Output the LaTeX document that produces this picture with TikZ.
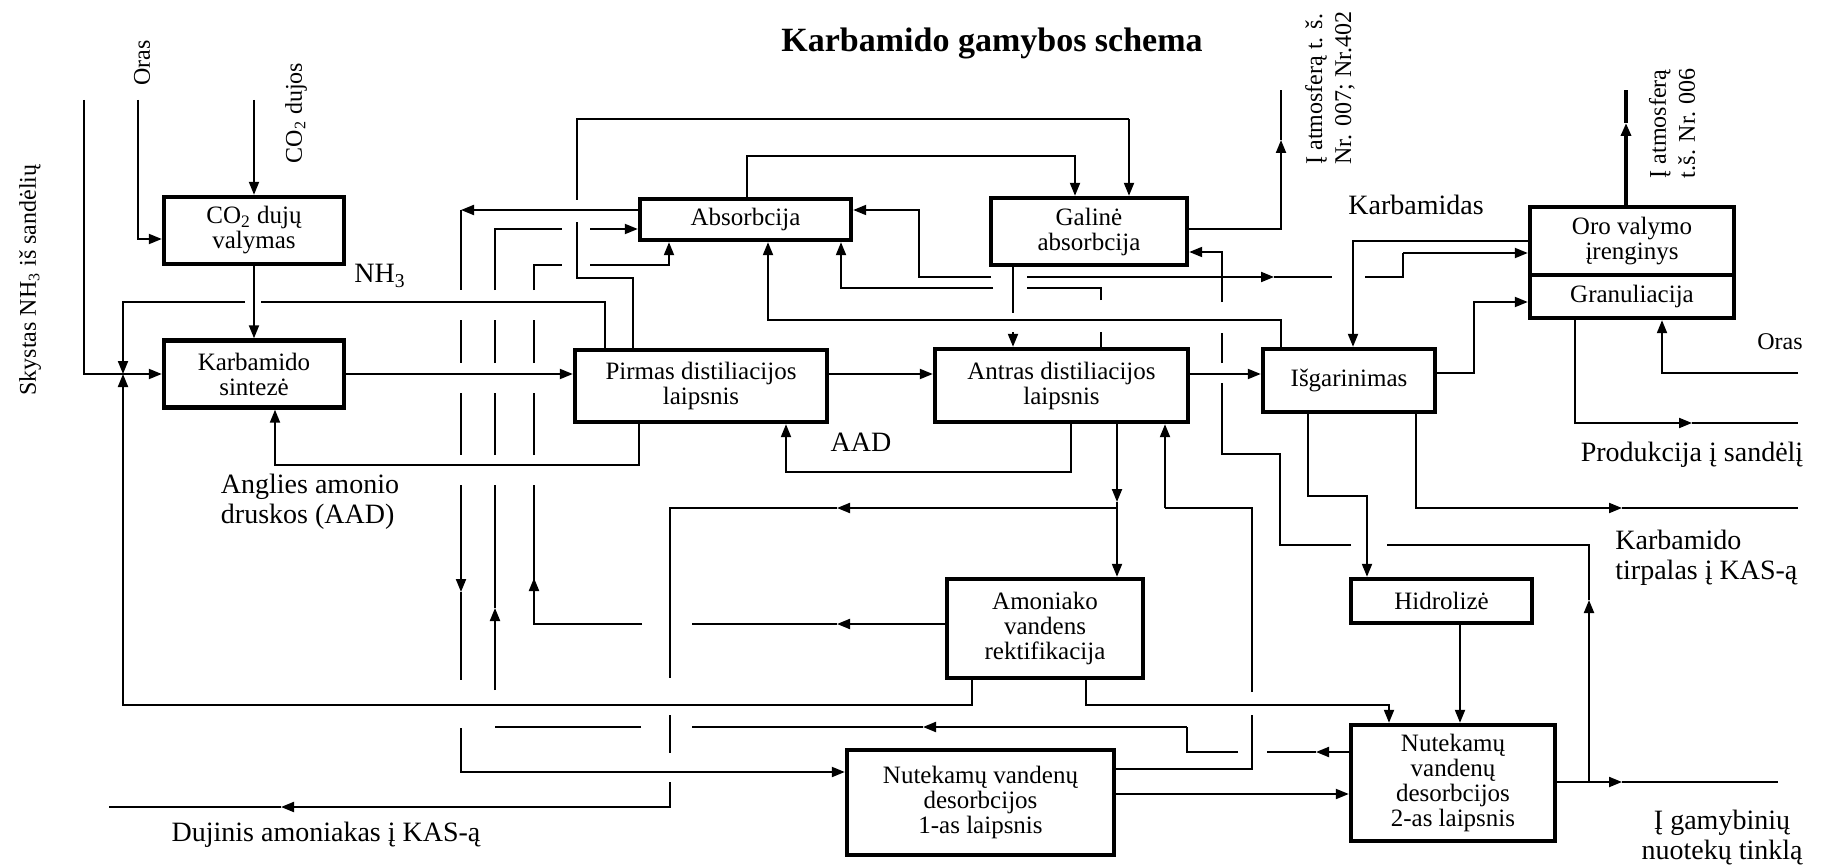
\documentclass[tikz,border=0pt]{standalone}
\usepackage{fontspec}
\setmainfont{Liberation Serif}
\usetikzlibrary{arrows.meta}

\newcommand\bxfont{\fontsize{12.5}{12.5}\selectfont}
\newcommand\lbfont{\fontsize{14}{15}\selectfont}
\newcommand\sdfont{\fontsize{12}{14.5}\selectfont}

\begin{document}
\begin{tikzpicture}[x=0.5pt, y=-0.5pt,
  box/.style = {draw, line width=2.2pt, align=center, inner sep=0pt, font=\bxfont},
  ln/.style = {line width=1pt},
  arr/.style = {ln, -{Triangle[length=6.5pt, width=5pt]}},
  lbl/.style = {font=\lbfont, align=center, inner sep=0pt},
  side/.style = {font=\sdfont, align=left, inner sep=0pt, rotate=90}]

\useasboundingbox[fill=white] (0,0) rectangle (1825,866);

\node[font=\bfseries\fontsize{17}{20}\selectfont] (title) at (992,43) {Karbamido gamybos schema};

% boxes
\node[box, minimum width=90pt, minimum height=33.5pt] (co2) at (254,230.5) {CO\textsubscript{2} dujų\\valymas};
\node[box, minimum width=90pt, minimum height=33.5pt] (sint) at (254,374) {Karbamido\\sintezė};
\node[box, minimum width=105.5pt, minimum height=20.5pt] (abs) at (745.5,219.5) {Absorbcija};
\node[box, minimum width=98pt, minimum height=33.5pt] (gal) at (1089,231.5) {Galinė\\absorbcija};
\node[box, minimum width=126pt, minimum height=36pt] (pirm) at (701,386) {Pirmas distiliacijos\\laipsnis};
\node[box, minimum width=126.5pt, minimum height=36.5pt] (antr) at (1061.5,385.5) {Antras distiliacijos\\laipsnis};
\node[box, minimum width=86pt, minimum height=31.5pt] (isg) at (1349,380.5) {Išgarinimas};
\node[box, minimum width=102pt, minimum height=34pt] (oro) at (1632,241) {Oro valymo\\įrenginys};
\node[box, minimum width=102pt, minimum height=21.5pt] (gran) at (1632,296.5) {Granuliacija};
\node[box, minimum width=90.5pt, minimum height=22pt] (hidr) at (1441.5,601) {Hidrolizė};
\node[box, minimum width=98pt, minimum height=49.5pt] (amon) at (1045,628.5) {Amoniako\\vandens\\rektifikacija};
\node[box, minimum width=133.5pt, minimum height=52.5pt] (nut1) at (980.5,802.5) {Nutekamų vandenų\\desorbcijos\\1-as laipsnis};
\node[box, minimum width=102pt, minimum height=58pt] (nut2) at (1453,783) {Nutekamų\\vandenų\\desorbcijos\\2-as laipsnis};

% labels
\node[side] (loras) at (142,63) {Oras};
\node[side] (lco2) at (296,113) {CO\textsubscript{2} dujos};
\node[side] (lnh) at (30,280) {Skystas NH\textsubscript{3} iš sandėlių};
\node[side] (latm1) at (1330,88) {Į atmosferą t. š.\\Nr. 007; Nr.402};
\node[side] (latm2) at (1672,123) {Į atmosferą\\t.š. Nr. 006};
\node[lbl] (lnh3) at (380,276) {NH\textsubscript{3}};
\node[lbl, align=left] (laad) at (310,502) {Anglies amonio\\druskos (AAD)};
\node[lbl] (laad2) at (861,442) {AAD};
\node[lbl] (ldujos) at (326,835) {Dujinis amoniakas į KAS-ą};
\node[lbl] (lkarb) at (1416,205) {Karbamidas};
\node[font=\sdfont] (loras2) at (1780,342) {Oras};
\node[lbl] (lprod) at (1692,455) {Produkcija į sandėlį};
\node[lbl, align=left, anchor=west] (ltirp) at (1615,558) {Karbamido\\tirpalas į KAS-ą};
\node[lbl] (lnuot) at (1722,838) {Į gamybinių\\nuotekų tinklą};

% feeds
\draw[arr] (138,100) |- (co2.west |- 0,239);
\draw[arr] (254,100) -- (co2.north);
\draw[arr] (84,100) |- (sint.west);
\draw[arr] (co2.south) -- (sint.north);

% recycles into synthesis
\draw[ln] (605,0 |- pirm.north) |- (261,302);
\draw[arr] (245,302) -| (123,374);
\draw[arr] (972,0 |- amon.south) |- (123,705) -- (123,374);

% main line
\draw[arr] (sint.east) -- (pirm.west |- sint.east);
\draw[arr] (pirm.east |- 0,374) -- (antr.west |- 0,374);
\draw[arr] (antr.east |- 0,374) -- (isg.west |- 0,374);

% AAD returns
\draw[arr] (639,0 |- pirm.south) |- (275,465) -- (275,0 |- sint.south);
\draw[arr] (1071,0 |- antr.south) |- (786,472) -- (786,0 |- pirm.south);

% Absorbcija -> Nut1
\draw[arr] (abs.west |- 0,210) -- (461,210);
\draw[ln] (461,210) -- (461,290) (461,320) -- (461,363) (461,393) -- (461,455);
\draw[arr] (461,485) -- (461,592);
\draw[ln] (461,592) -- (461,680);
\draw[arr] (461,728) |- (nut1.west |- 0,772);

% Nut2 -> Absorbcija
\draw[arr] (nut2.west |- 0,752) -- (1316,752);
\draw[ln] (1316,752) -- (1267,752) (1238,752) -| (1187,727);
\draw[arr] (1187,727) -- (923,727);
\draw[ln] (923,727) -- (692,727) (641,727) -- (495,727);
\draw[arr] (495,690) -- (495,608);
\draw[ln] (495,608) -- (495,485) (495,455) -- (495,393) (495,363) -- (495,320) (495,290) |- (562,229);
\draw[arr] (590,229) -- (abs.west |- 0,229);

% Amoniako -> Absorbcija
\draw[arr] (amon.west |- 0,624) -- (837,624);
\draw[ln] (837,624) -- (692,624) (642,624) -| (534,578);
\draw[arr] (534,624) -- (534,578);
\draw[ln] (534,578) -- (534,485) (534,455) -- (534,393) (534,363) -- (534,320) (534,290) |- (562,265);
\draw[arr] (590,265) -| (669,0 |- abs.south);

% Pirmas -> Galine
\draw[ln] (633,0 |- pirm.north) |- (577,278) -- (577,222) (577,200) |- (1129,119);
\draw[arr] (1129,119) -- (1129,0 |- gal.north);
\draw[arr] (747,0 |- abs.north) |- (1075,156) -- (1075,0 |- gal.north);
\draw[ln] (1013,0 |- gal.south) -- (1013,313);
\draw[arr] (1013,332) -- (1013,0 |- antr.north);
\draw[arr] (gal.east |- 0,229) -| (1281,140);
\draw[ln] (1281,140) -- (1281,90);

% returns to Absorbcija
\draw[arr] (1281,0 |- isg.north) |- (768,320) -- (768,0 |- abs.south);
\draw[ln] (1101,0 |- antr.north) -- (1101,332) (1101,300) |- (1027,288);
\draw[arr] (993,288) -| (841,0 |- abs.south);
\draw[arr] (991,277) -| (919,210) -- (abs.east |- 0,210);
\draw[ln] (1027,277) -- (1222,277);
\draw[arr] (1222,277) -- (1274,277);
\draw[ln] (1274,277) -- (1332,277) (1365,277) -| (1403,253);
\draw[arr] (1403,253) -- (oro.west |- 0,253);

% Nut2 -> Galine
\draw[arr] (1589,782) -- (1589,600);
\draw[ln] (1589,600) |- (1387,545) (1351,545) -| (1280,454) -| (1222,383) (1222,363) -- (1222,333);
\draw[arr] (1222,302) |- (gal.east |- 0,252);

% right side
\draw[arr] (oro.west |- 0,241) -| (1353,0 |- isg.north);
\draw[arr] (isg.east |- 0,373) -| (1474,302) -- (gran.west |- 0,302);
\draw[arr] (1798,373) -| (1662,0 |- gran.south);
\draw[arr] (1575,0 |- gran.south) |- (1692,423);
\draw[ln] (1692,423) -- (1798,423);
\draw[arr, line width=2pt] (1626,0 |- oro.north) -- (1626,123);
\draw[line width=2pt] (1626,123) -- (1626,90);
\draw[arr] (1416,0 |- isg.south) |- (1622,508);
\draw[ln] (1622,508) -- (1798,508);
\draw[arr] (1308,0 |- isg.south) |- (1367,496) -- (1367,0 |- hidr.north);
\draw[arr] (1460,0 |- hidr.south) -- (1460,0 |- nut2.north);

% lower part
\draw[arr] (1086,0 |- amon.south) |- (1389,705) -- (1389,0 |- nut2.north);
\draw[arr] (1117,0 |- antr.south) -- (1117,502);
\draw[arr] (1117,502) -- (1117,0 |- amon.north);
\draw[arr] (1117,508) -- (837,508);
\draw[ln] (837,508) -| (670,678) (670,715) -- (670,753);
\draw[arr] (670,782) |- (281,807);
\draw[ln] (281,807) -- (109,807);
\draw[ln] (nut1.east |- 0,769) -| (1252,715) (1252,692) |- (1165,508);
\draw[arr] (1165,508) -- (1165,0 |- antr.south);
\draw[arr] (nut1.east |- 0,794) -- (nut2.west |- 0,794);
\draw[arr] (nut2.east |- 0,782) -- (1622,782);
\draw[ln] (1622,782) -- (1778,782);

\end{tikzpicture}
\end{document}
